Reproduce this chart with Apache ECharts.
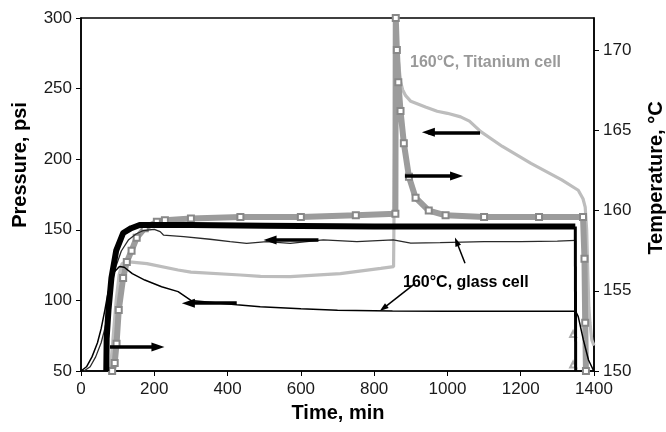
<!DOCTYPE html>
<html>
<head>
<meta charset="utf-8">
<script src="https://cdn.jsdelivr.net/npm/echarts@6/dist/echarts.min.js"></script>
<style>html,body{margin:0;padding:0;background:#fff}#c{width:666px;height:432px}</style>
</head>
<body>
<div id="c"></div>
<script>
// ---- Data (time in min) ----
// Glass cell temperature (right axis, black thick)
const glassTempTime = [69,70,75,83,96,115,137,160,300,500,800,1000,1200,1349];
const glassTemp     = [150,152,153.8,155.8,157.5,158.6,158.9,159.1,159.1,159.05,159.0,159.0,159.0,159.0];
// Glass cell temperature, cool-down drop (thinner segment)
const glassDropTime = [1349,1350];
const glassDrop     = [159.0,150];

// Titanium cell temperature (right axis, gray squares)
const tiTempTime = [85,92,97,103,115,125,138,152,174,207,229,300,435,600,750,858,859,862,866,872,881,895,913,949,995,1100,1250,1370,1374,1376,1378];
const tiTemp     = [150,150.5,151.7,153.8,155.8,156.8,157.5,158.3,158.9,159.3,159.4,159.5,159.6,159.6,159.7,159.8,172,170,168,166.2,164.2,162.1,160.8,160.0,159.7,159.6,159.6,159.6,157,153,150];

// Glass cell pressure, lower curve (left axis, thin black)
const glassPressTime = [0,15,30,45,55,65,72,80,90,105,118,140,174,220,265,300,425,489,600,700,850,1000,1200,1350,1357,1371,1385,1398];
const glassPress     = [50,53,60,70,80,93,103,112,120,124,123.5,119,114.4,109.7,106.2,100,97,95.5,94,93,92.5,92.3,92.3,92.3,88.5,72,57.8,50.7];

// Glass cell pressure, upper curve (left axis, thin dark)
const glassPress2Time = [8,25,40,55,65,75,90,110,130,150,170,200,216,225,280,352,407,452,507,571,661,753,852,900,980,1100,1200,1300,1350];
const glassPress2     = [50,53,60,70,80,93,120,135,143,147,149.5,150.3,148.7,146.3,145.1,143.3,141.6,140.4,141.6,140.4,142.8,141.6,142.8,140.5,140.9,141.6,141.6,142,142.5];

// Titanium cell pressure (left axis, light gray thick)
const tiPressTime = [80,88,96,104,112,125,180,265,300,435,490,571,708,818,853,858,859,866,872,878,886,900,940,972,1000,1036,1060,1091,1150,1228,1312,1357,1370,1376,1380,1383,1386,1389,1394,1400];
const tiPress     = [50,75,100,118,126,127.5,126,121.5,120,118,117,116.8,119,122.7,123.9,124,300,270,255,249,245,241,237,234,232.5,230,227,219.5,209,197,185.3,178,172,166,150,120,95,84,72,68];

// Gray triangle markers (end of glass-cell run)
const triTime = [1343,1343];
const triTemp = [152.3,150.4];

// Axis ticks
const xTicks = [0,200,400,600,800,1000,1200,1400];
const leftTicks = [50,100,150,200,250,300];
const rightTicks = [150,155,160,165,170];

// Annotation arrows [from, to] in (time, pressure)
const thickArrows = [
  [[79,67],[210,67]],
  [[425,98],[293,98]],
  [[648,142.8],[516,142.8]],
  [[884,188.1],[1025,188.1]],
  [[1089,219],[948,219]]
];
const thinArrows = [
  [[1048,126.3],[1025,141.6]],
  [[912,112],[825,94.4]]
];

const zip = (xs, ys) => xs.map((x, i) => [x, ys[i]]);
const FONT = 'Liberation Sans, Arial, sans-serif';

const chart = echarts.init(document.getElementById('c'), null, {renderer: 'canvas'});

const axisCommon = {
  axisLine: {show: true, onZero: false, lineStyle: {color: '#000', width: 1.5}},
  axisTick: {show: true, length: 5, lineStyle: {color: '#000', width: 1}},
  splitLine: {show: false},
  axisLabel: {color: '#1a1a1a', fontSize: 17, fontFamily: FONT, formatter: v => String(v)}
};

chart.setOption({
  animation: false,
  backgroundColor: '#fff',
  grid: {left: 81, right: 72, top: 18, bottom: 61, show: true, borderColor: '#000', borderWidth: 1.5, backgroundColor: 'transparent'},
  xAxis: Object.assign({}, axisCommon, {
    type: 'value', min: xTicks[0], max: xTicks[xTicks.length - 1], interval: 200,
    axisLabel: Object.assign({}, axisCommon.axisLabel, {margin: 10})
  }),
  yAxis: [
    Object.assign({}, axisCommon, {
      type: 'value', position: 'left', min: leftTicks[0], max: leftTicks[leftTicks.length - 1], interval: 50,
      axisLabel: Object.assign({}, axisCommon.axisLabel, {margin: 9})
    }),
    Object.assign({}, axisCommon, {
      type: 'value', position: 'right', min: 150, max: 172, interval: 5,
      axisTick: Object.assign({}, axisCommon.axisTick, {customValues: rightTicks}),
      axisLabel: Object.assign({}, axisCommon.axisLabel, {margin: 9, customValues: rightTicks})
    })
  ],
  series: [
    {
      name: 'Ti pressure', type: 'line', yAxisIndex: 0, z: 2,
      data: zip(tiPressTime, tiPress), showSymbol: false, smooth: false,
      lineStyle: {color: '#bdbdbd', width: 3.2}, itemStyle: {color: '#bdbdbd'},
      emphasis: {disabled: true}
    },
    {
      name: 'Ti temperature', type: 'line', yAxisIndex: 1, z: 3,
      data: zip(tiTempTime, tiTemp), showSymbol: true, symbol: 'emptyRect', symbolSize: 6,
      lineStyle: {color: '#9c9c9c', width: 6}, itemStyle: {color: '#888', borderColor: '#888', borderWidth: 1},
      emphasis: {disabled: true}
    },
    {
      name: 'Glass pressure 2', type: 'line', yAxisIndex: 0, z: 4,
      data: zip(glassPress2Time, glassPress2), showSymbol: false,
      lineStyle: {color: '#2a2a2a', width: 1.3}, itemStyle: {color: '#2a2a2a'},
      emphasis: {disabled: true},
      markLine: {
        silent: true, animation: false,
        symbol: ['none', 'triangle'], symbolSize: [6, 9],
        label: {show: false},
        lineStyle: {color: '#000', width: 1.5, type: 'solid'},
        emphasis: {disabled: true},
        data: thinArrows.map(a => [{coord: a[0]}, {coord: a[1]}])
      }
    },
    {
      name: 'Glass temperature', type: 'line', yAxisIndex: 1, z: 5,
      data: zip(glassTempTime, glassTemp), showSymbol: false,
      lineStyle: {color: '#000', width: 6, join: 'round'}, itemStyle: {color: '#000'},
      emphasis: {disabled: true}
    },
    {
      name: 'Glass temperature drop', type: 'line', yAxisIndex: 1, z: 5,
      data: zip(glassDropTime, glassDrop), showSymbol: false,
      lineStyle: {color: '#000', width: 3}, itemStyle: {color: '#000'},
      emphasis: {disabled: true}
    },
    {
      name: 'Glass pressure', type: 'line', yAxisIndex: 0, z: 6,
      data: zip(glassPressTime, glassPress), showSymbol: false,
      lineStyle: {color: '#000', width: 1.5}, itemStyle: {color: '#000'},
      emphasis: {disabled: true},
      markLine: {
        silent: true, animation: false,
        symbol: ['none', 'triangle'], symbolSize: [9, 13],
        label: {show: false},
        lineStyle: {color: '#000', width: 3.5, type: 'solid'},
        emphasis: {disabled: true},
        data: thickArrows.map(a => [{coord: a[0]}, {coord: a[1]}])
      }
    },
    {
      name: 'Triangles', type: 'scatter', yAxisIndex: 1, z: 4,
      data: zip(triTime, triTemp), symbol: 'emptyTriangle', symbolSize: 6,
      itemStyle: {color: '#999', borderColor: '#999', borderWidth: 1},
      emphasis: {disabled: true}
    }
  ],
  graphic: [
    {type: 'text', x: 20, y: 165, rotation: Math.PI / 2,
     style: {text: 'Pressure, psi', font: 'bold 20px ' + FONT, fill: '#000', align: 'center', verticalAlign: 'middle'}},
    {type: 'text', x: 656, y: 178, rotation: Math.PI / 2,
     style: {text: 'Temperature, °C', font: 'bold 20px ' + FONT, fill: '#000', align: 'center', verticalAlign: 'middle'}},
    {type: 'text', x: 338, y: 413,
     style: {text: 'Time, min', font: 'bold 20px ' + FONT, fill: '#000', align: 'center', verticalAlign: 'middle'}},
    {type: 'text', x: 410, y: 63, z: 10,
     style: {text: '160°C, Titanium cell', font: 'bold 16px ' + FONT, fill: '#999', align: 'left', verticalAlign: 'middle'}},
    {type: 'text', x: 403, y: 283, z: 10,
     style: {text: '160°C, glass cell', font: 'bold 16px ' + FONT, fill: '#000', align: 'left', verticalAlign: 'middle'}}
  ]
});
</script>
</body>
</html>
